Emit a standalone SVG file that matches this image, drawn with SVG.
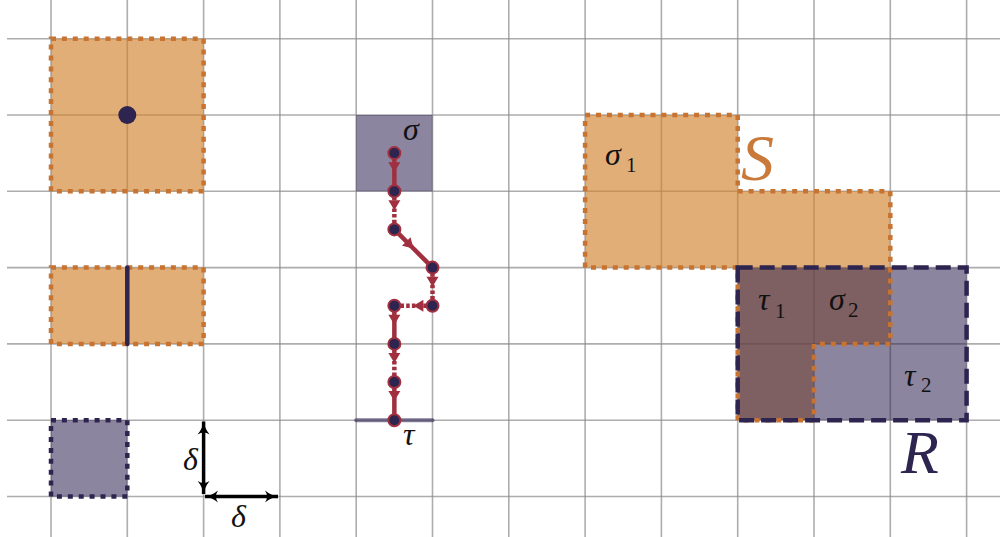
<svg xmlns="http://www.w3.org/2000/svg" width="1000" height="537" viewBox="0 0 1000 537">
  <style>
    .grid line { stroke: #8a8a8a; stroke-opacity: 0.7; stroke-width: 1.6; }
    .ofill { fill: #D2832F; fill-opacity: 0.65; }
    .pfill { fill: #2D2150; fill-opacity: 0.55; }
    .odot { fill: none; stroke: #C8732F; stroke-width: 4.5; stroke-dasharray: 5 5.9; }
    .pdot { fill: none; stroke: #2E2450; stroke-width: 4.5; stroke-dasharray: 5 5.9; }
    .pdash { fill: none; stroke: #2E2450; stroke-width: 4.5; stroke-dasharray: 15 7; }
    .seg { fill: none; stroke: #A0303F; stroke-width: 4.5; marker-mid: url(#mid); }
    .dsh { stroke-dasharray: 3.5 2.2; }
    .pt { fill: #2E2450; stroke: #A0303F; stroke-width: 2; }
    .lbl { font-family: "Liberation Serif", "DejaVu Serif", serif; font-style: italic; font-size: 32px; fill: #111; }
    .sub { font-family: "Liberation Serif", "DejaVu Serif", serif; font-size: 21px; fill: #111; }
    .axis { stroke: #000; stroke-width: 3.5; fill: none; marker-start: url(#ah); marker-end: url(#ah); }
  </style>
  <defs>
    <marker id="mid" viewBox="-12 -7 14 14" refX="0" refY="0" markerWidth="14" markerHeight="14" markerUnits="userSpaceOnUse" orient="auto">
      <path d="M-10,-6 L0,0 L-10,6 z" fill="#A0303F"/>
    </marker>
    <marker id="ah" viewBox="-14 -7 16 14" refX="0" refY="0" markerWidth="16" markerHeight="14" markerUnits="userSpaceOnUse" orient="auto-start-reverse">
      <path d="M-13,-6 Q-7,-1 0,0 Q-7,1 -13,6 Q-9,0 -13,-6 z" fill="#000"/>
    </marker>
  </defs>

  <g id="grid" class="grid">
    <line x1="51" y1="0" x2="51" y2="537"/>
    <line x1="127.3" y1="0" x2="127.3" y2="537"/>
    <line x1="203.6" y1="0" x2="203.6" y2="537"/>
    <line x1="279.9" y1="0" x2="279.9" y2="537"/>
    <line x1="356.2" y1="0" x2="356.2" y2="537"/>
    <line x1="432.5" y1="0" x2="432.5" y2="537"/>
    <line x1="508.8" y1="0" x2="508.8" y2="537"/>
    <line x1="585.1" y1="0" x2="585.1" y2="537"/>
    <line x1="661.4" y1="0" x2="661.4" y2="537"/>
    <line x1="737.7" y1="0" x2="737.7" y2="537"/>
    <line x1="814" y1="0" x2="814" y2="537"/>
    <line x1="890.3" y1="0" x2="890.3" y2="537"/>
    <line x1="966.6" y1="0" x2="966.6" y2="537"/>
    <line x1="7" y1="38.7" x2="1000" y2="38.7"/>
    <line x1="7" y1="115" x2="1000" y2="115"/>
    <line x1="7" y1="191.3" x2="1000" y2="191.3"/>
    <line x1="7" y1="267.6" x2="1000" y2="267.6"/>
    <line x1="7" y1="343.9" x2="1000" y2="343.9"/>
    <line x1="7" y1="420.2" x2="1000" y2="420.2"/>
    <line x1="7" y1="496.5" x2="1000" y2="496.5"/>
  </g>

  <g id="square-point">
    <rect class="ofill" x="51" y="38.7" width="152.6" height="152.6"/>
    <rect class="odot" x="51" y="38.7" width="152.6" height="152.6"/>
    <circle cx="127.3" cy="115" r="9" fill="#2E2450"/>
  </g>

  <g id="rect-edge">
    <rect class="ofill" x="51" y="267.6" width="152.6" height="76.3"/>
    <rect class="odot" x="51" y="267.6" width="152.6" height="76.3"/>
    <line x1="127.3" y1="267.6" x2="127.3" y2="343.9" stroke="#2E2450" stroke-width="4.5" stroke-linecap="round"/>
  </g>

  <g id="cell">
    <rect class="pfill" x="51" y="420.2" width="76.3" height="76.3"/>
    <rect class="pdot" x="51" y="420.2" width="76.3" height="76.3"/>
  </g>

  <g id="delta-axes">
    <line class="axis" x1="203.6" y1="421.5" x2="203.6" y2="494"/>
    <line class="axis" x1="205" y1="496.5" x2="278" y2="496.5"/>
    <text class="lbl" x="183" y="470">δ</text>
    <text class="lbl" x="231" y="527">δ</text>
  </g>

  <g id="sigma-cell">
    <rect class="pfill" x="356.2" y="115" width="76.3" height="76.3"/>
    <text class="lbl" x="403" y="140">σ</text>
  </g>

  <g id="tau-edge">
    <line x1="356.2" y1="420.2" x2="432.5" y2="420.2" stroke="#2D2150" stroke-opacity="0.6" stroke-width="4" stroke-linecap="round"/>
    <text class="lbl" x="403" y="445">τ</text>
  </g>

  <g id="connectors">
    <path class="seg" d="M394.35,153.1 L394.35,172.2 L394.35,191.3"/>
    <path class="seg dsh" d="M394.35,191.3 L394.35,210.35 L394.35,229.4"/>
    <path class="seg" d="M394.35,229.4 L413.4,248.5 L432.5,267.6"/>
    <path class="seg dsh" d="M432.5,267.6 L432.5,286.65 L432.5,305.7"/>
    <path class="seg dsh" d="M432.5,305.7 L413.4,305.7 L394.35,305.7"/>
    <path class="seg" d="M394.35,305.7 L394.35,324.8 L394.35,343.9"/>
    <path class="seg dsh" d="M394.35,343.9 L394.35,362.95 L394.35,382"/>
    <path class="seg" d="M394.35,382 L394.35,401.1 L394.35,420.2"/>
  </g>

  <g id="path-points">
    <circle class="pt" cx="394.35" cy="153.1" r="6"/>
    <circle class="pt" cx="394.35" cy="191.3" r="6"/>
    <circle class="pt" cx="394.35" cy="229.4" r="6"/>
    <circle class="pt" cx="432.5" cy="267.6" r="6"/>
    <circle class="pt" cx="432.5" cy="305.7" r="6"/>
    <circle class="pt" cx="394.35" cy="305.7" r="6"/>
    <circle class="pt" cx="394.35" cy="343.9" r="6"/>
    <circle class="pt" cx="394.35" cy="382" r="6"/>
    <circle class="pt" cx="394.35" cy="420.2" r="6"/>
  </g>

  <g id="region-S">
    <path class="ofill" d="M585.1,115 L737.7,115 L737.7,191.3 L890.3,191.3 L890.3,343.9 L814,343.9 L814,420.2 L737.7,420.2 L737.7,267.6 L585.1,267.6 Z"/>
  </g>

  <g id="region-R">
    <rect class="pfill" x="737.7" y="267.6" width="228.9" height="152.6"/>
  </g>

  <g id="region-S-border">
    <path class="odot" d="M585.1,115 L737.7,115 L737.7,191.3 L890.3,191.3 L890.3,343.9 L814,343.9 L814,420.2 L737.7,420.2 L737.7,267.6 L585.1,267.6 Z"/>
    <text x="741" y="180" style="font-family:'Liberation Serif','DejaVu Serif',serif;font-style:italic;font-size:66px;fill:#C97A3A">S</text>
    <text class="lbl" x="605" y="165">σ</text>
    <text class="sub" x="626" y="172">1</text>
    <text class="lbl" x="829" y="310">σ</text>
    <text class="sub" x="848" y="317">2</text>
  </g>

  <g id="region-R-border">
    <rect class="pdash" x="737.7" y="267.6" width="228.9" height="152.6"/>
    <text class="lbl" x="758" y="310">τ</text>
    <text class="sub" x="775" y="318">1</text>
    <text class="lbl" x="904" y="386">τ</text>
    <text class="sub" x="921" y="392">2</text>
    <text x="901" y="473" style="font-family:'Liberation Serif','DejaVu Serif',serif;font-style:italic;font-size:62px;fill:#2E2450">R</text>
  </g>
</svg>
